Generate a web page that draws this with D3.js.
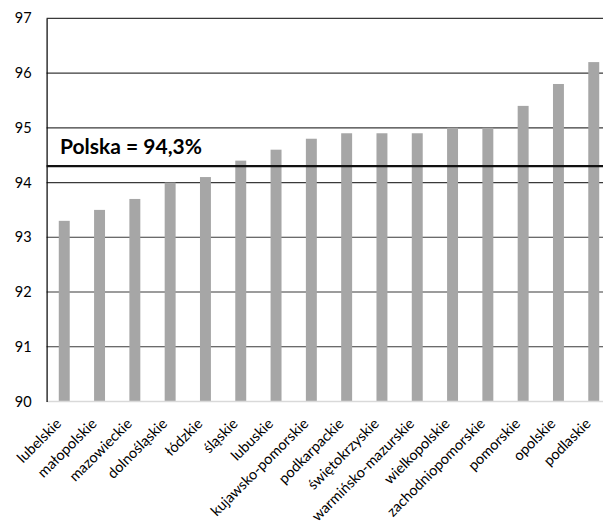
<!DOCTYPE html>
<html>
<head>
<meta charset="utf-8">
<script src="https://cdn.jsdelivr.net/npm/d3@7"></script>
<style>
  body { margin: 0; background: #fff; }
  svg text { font-family: Lato, "Open Sans", sans-serif; }
</style>
</head>
<body>
<svg id="chart"></svg>
<script>
const regions = ['lubelskie', 'małopolskie', 'mazowieckie', 'dolnośląskie', 'łódzkie', 'śląskie',
  'lubuskie', 'kujawsko-pomorskie', 'podkarpackie', 'świętokrzyskie', 'warmińsko-mazurskie',
  'wielkopolskie', 'zachodniopomorskie', 'pomorskie', 'opolskie', 'podlaskie'];
const values = [93.3, 93.5, 93.7, 94.0, 94.1, 94.4, 94.6, 94.8, 94.9, 94.9, 94.9, 95.0, 95.0, 95.4, 95.8, 96.2];
const yTicks = [90, 91, 92, 93, 94, 95, 96, 97];
const polska = 94.3;
const polskaLabel = 'Polska = 94,3%';

const width = 603, height = 526;
const plotLeft = 46.6, plotTop = 18.3, plotBottom = 401.5;
const step = 35.3;

const svg = d3.select('#chart')
  .attr('width', width)
  .attr('height', height);

const x = d3.scaleBand()
  .domain(regions)
  .range([plotLeft, plotLeft + step * regions.length])
  .paddingInner(0.69)
  .paddingOuter(0.345);

const y = d3.scaleLinear()
  .domain([90, 97])
  .range([plotBottom, plotTop]);

// gridlines
svg.append('g')
  .selectAll('line')
  .data(yTicks.filter(d => d > 90))
  .enter()
  .append('line')
  .attr('x1', plotLeft)
  .attr('x2', width)
  .attr('y1', d => y(d))
  .attr('y2', d => y(d))
  .attr('stroke', '#3a3a3a')
  .attr('stroke-width', 1.2);

// bars
svg.selectAll('.bar')
  .data(values)
  .enter()
  .append('rect')
  .attr('class', 'bar')
  .attr('x', (d, i) => x(regions[i]))
  .attr('y', d => y(d))
  .attr('width', x.bandwidth())
  .attr('height', d => y(90) - y(d))
  .attr('fill', '#a6a6a6');

// baseline
svg.append('line')
  .attr('x1', plotLeft)
  .attr('x2', width)
  .attr('y1', y(90))
  .attr('y2', y(90))
  .attr('stroke', '#d9d9d9')
  .attr('stroke-width', 1.5);

// y axis
const yAxis = d3.axisLeft(y).tickValues(yTicks).tickFormat(d3.format('d')).tickSize(0).tickPadding(15);
const gy = svg.append('g')
  .attr('transform', `translate(${plotLeft},0)`)
  .call(yAxis);
gy.select('.domain').attr('stroke', '#000').attr('stroke-width', 1.2);
gy.selectAll('text').attr('font-size', 14.5).attr('fill', '#000');

// x labels
svg.append('g')
  .selectAll('text')
  .data(regions)
  .enter()
  .append('text')
  .attr('transform', d => `translate(${x(d) + x.bandwidth() / 2 - 2},${plotBottom + 23}) rotate(-45)`)
  .attr('text-anchor', 'end')
  .attr('font-size', 14.5)
  .attr('fill', '#000')
  .text(d => d);

// Polska reference line
svg.append('line')
  .attr('x1', plotLeft)
  .attr('x2', width)
  .attr('y1', y(polska))
  .attr('y2', y(polska))
  .attr('stroke', '#111')
  .attr('stroke-width', 2.2);

svg.append('text')
  .attr('x', 60)
  .attr('y', 154)
  .attr('font-size', 21)
  .attr('font-weight', 'bold')
  .attr('fill', '#000')
  .text(polskaLabel);
</script>
</body>
</html>
